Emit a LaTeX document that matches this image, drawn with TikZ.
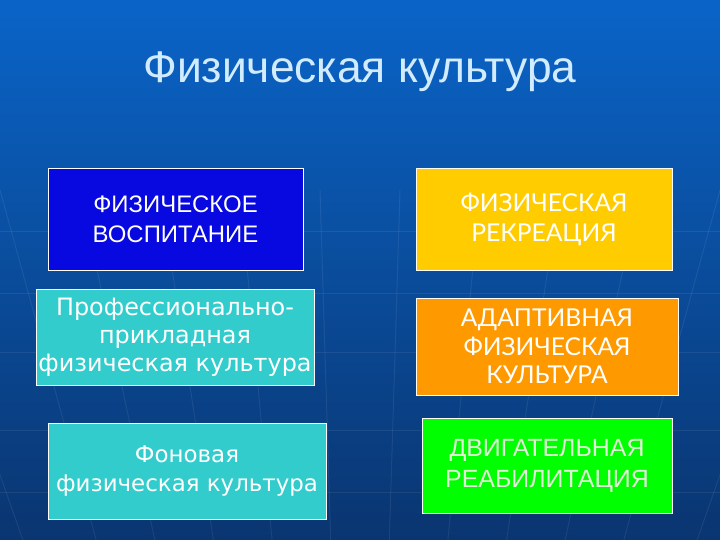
\documentclass[tikz,border=0pt]{standalone}
\usepackage{fontspec}
\setmainfont{Liberation Sans}
\newfontfamily\dvs{DejaVu Sans}
\newfontfamily\lato{Lato}
\definecolor{bgtop}{HTML}{0A64C8}
\definecolor{bgmid}{HTML}{0B4FA0}
\definecolor{bgbot}{HTML}{0A3570}
\definecolor{boxblue}{HTML}{0808E0}
\definecolor{boxteal}{HTML}{33CCCC}
\definecolor{boxyellow}{HTML}{FFCC00}
\definecolor{boxorange}{HTML}{FF9900}
\definecolor{boxgreen}{HTML}{00FF00}
\definecolor{titlecol}{HTML}{D2ECFF}
\begin{document}
\begin{tikzpicture}[x=1bp,y=-1bp,
  box/.style={draw=white, line width=0.9bp, align=center, inner sep=0pt, text=white},
  gridline/.style={white, opacity=0.07, line width=1bp}]
\shade[top color=bgtop, middle color=bgmid, bottom color=bgbot] (0,0) rectangle (720,540);
\useasboundingbox (0,0) rectangle (720,540);
% faint background grid
\begin{scope}
  \clip (0,190) rectangle (720,540);
  \foreach \y in {232,293,352,430,492} \draw[gridline] (0,\y) -- (720,\y);
  \foreach \x in {-300,-200,-100,0,80,160,240,320,400,480,560,640,720,820,920,1020} \draw[gridline] (\x,190) -- (360,1500);
\end{scope}
% title
\node (title) [text=titlecol, font=\fontsize{44.5}{50}\selectfont] at (360,72) {Физическая культура};
% boxes
\node (vosp) [box, fill=boxblue, minimum width=255bp, minimum height=102bp,
  font=\fontsize{24}{30}\selectfont] at (175.5,219) {ФИЗИЧЕСКОЕ\\ВОСПИТАНИЕ};
\node (prof) [box, fill=boxteal, minimum width=278bp, minimum height=96bp,
  font=\dvs\fontsize{24}{28}\selectfont] at (175,337) {Профессионально-\\прикладная\\физическая культура};
\node (fon) [box, fill=boxteal, minimum width=278bp, minimum height=96bp,
  font=\dvs\fontsize{23}{30}\selectfont] at (187,471) {Фоновая\\физическая культура};
\node (rekr) [box, fill=boxyellow, minimum width=256bp, minimum height=102bp,
  text=white, font=\lato\fontsize{24.7}{30}\selectfont] at (544,219) {ФИЗИЧЕСКАЯ\\РЕКРЕАЦИЯ};
\node (adapt) [box, fill=boxorange, minimum width=262bp, minimum height=97bp,
  text=white, font=\lato\fontsize{24.7}{28.5}\selectfont] at (547,346.5) {АДАПТИВНАЯ\\ФИЗИЧЕСКАЯ\\КУЛЬТУРА};
\node (dvig) [box, fill=boxgreen, minimum width=250bp, minimum height=95bp,
  text={rgb,255:red,225;green,240;blue,215}, font=\fontsize{25}{31}\selectfont] at (547,465.5) {ДВИГАТЕЛЬНАЯ\\РЕАБИЛИТАЦИЯ};
\end{tikzpicture}
\end{document}
